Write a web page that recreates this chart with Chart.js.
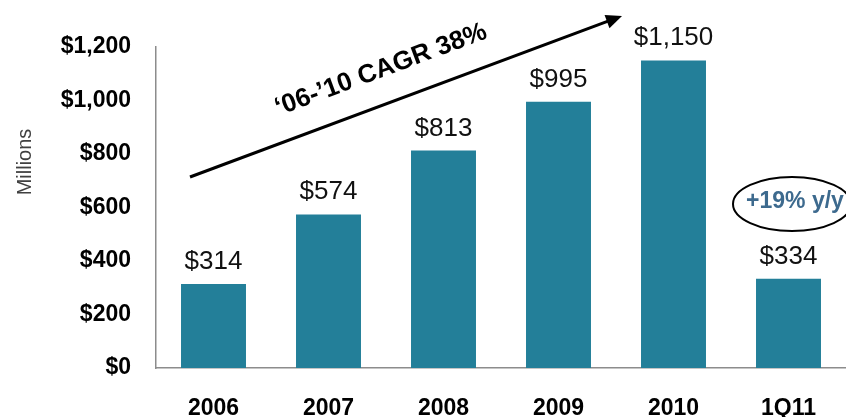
<!DOCTYPE html>
<html>
<head>
<meta charset="utf-8">
<script src="https://cdn.jsdelivr.net/npm/chart.js@4/dist/chart.umd.min.js"></script>
<style>
  html, body { margin: 0; padding: 0; background: #fff; overflow: hidden; }
  #wrap { width: 846px; height: 417px; }
</style>
</head>
<body>
<div id="wrap"><canvas id="revChart"></canvas></div>
<script>
// ---- data ----
const categories = ['2006', '2007', '2008', '2009', '2010', '1Q11'];
const revenue = [314, 574, 813, 995, 1150, 334];
const yTicks = [0, 200, 400, 600, 800, 1000, 1200];

const FONT = '"Liberation Sans", Arial, sans-serif';
const BAR_COLOR = '#237F99';
const AXIS_COLOR = '#8c8c8c';

function money(v) {
    return '$' + v.toLocaleString('en-US');
}

// labels above bars + arrow / CAGR / ellipse callouts
const annotations = {
    id: 'annotations',
    afterDatasetsDraw(chart) {
        const ctx = chart.ctx;
        const meta = chart.getDatasetMeta(0);

        // value labels
        ctx.save();
        ctx.fillStyle = '#111';
        ctx.font = '26px ' + FONT;
        ctx.textAlign = 'center';
        ctx.textBaseline = 'alphabetic';
        meta.data.forEach((bar, i) => {
            ctx.fillText(money(revenue[i]), bar.x, bar.y - 15);
        });
        ctx.restore();

        // "Millions" axis caption
        ctx.save();
        ctx.translate(25, 162);
        ctx.rotate(-Math.PI / 2);
        ctx.fillStyle = '#404040';
        ctx.font = '20px ' + FONT;
        ctx.textAlign = 'center';
        ctx.textBaseline = 'middle';
        ctx.fillText('Millions', 0, 0);
        ctx.restore();

        // growth arrow
        const x0 = 190, y0 = 177, x1 = 622, y1 = 16;
        const ang = Math.atan2(y1 - y0, x1 - x0);
        ctx.save();
        ctx.strokeStyle = '#000';
        ctx.fillStyle = '#000';
        ctx.lineWidth = 3;
        ctx.beginPath();
        ctx.moveTo(x0, y0);
        ctx.lineTo(x1 - 12 * Math.cos(ang), y1 - 12 * Math.sin(ang));
        ctx.stroke();
        ctx.translate(x1, y1);
        ctx.rotate(ang);
        ctx.beginPath();
        ctx.moveTo(0, 0);
        ctx.lineTo(-16, -7);
        ctx.lineTo(-16, 7);
        ctx.closePath();
        ctx.fill();
        ctx.restore();

        // CAGR text
        ctx.save();
        ctx.translate(381, 70);
        ctx.rotate(ang);
        ctx.fillStyle = '#000';
        ctx.font = 'bold 26px ' + FONT;
        ctx.textAlign = 'center';
        ctx.textBaseline = 'middle';
        ctx.fillText('\u201806-\u201910 CAGR 38%', 0, 0);
        ctx.restore();

        // y/y callout
        ctx.save();
        ctx.strokeStyle = '#000';
        ctx.lineWidth = 2;
        ctx.beginPath();
        ctx.ellipse(792, 204, 59, 27, 0, 0, Math.PI * 2);
        ctx.stroke();
        ctx.fillStyle = '#3d6a8e';
        ctx.font = 'bold 23px ' + FONT;
        ctx.textAlign = 'center';
        ctx.textBaseline = 'middle';
        ctx.fillText('+19% y/y', 795, 202);
        ctx.restore();
    }
};

new Chart(document.getElementById('revChart'), {
    type: 'bar',
    data: {
        labels: categories,
        datasets: [{
            data: revenue,
            backgroundColor: BAR_COLOR,
            borderWidth: 0,
            barPercentage: 0.565,
            categoryPercentage: 1
        }]
    },
    options: {
        responsive: true,
        maintainAspectRatio: false,
        animation: false,
        layout: { padding: { top: 47, right: 0, bottom: 0, left: 0 } },
        plugins: {
            legend: { display: false },
            tooltip: { enabled: false }
        },
        scales: {
            x: {
                grid: { display: false, drawTicks: false },
                border: { display: true, color: AXIS_COLOR, width: 1.5 },
                ticks: {
                    color: '#000',
                    padding: 27,
                    font: { family: FONT, size: 23, weight: 'bold' }
                },
                afterFit: s => { s.height = 49; }
            },
            y: {
                min: 0,
                max: 1200,
                afterBuildTicks: s => { s.ticks = yTicks.map(v => ({ value: v })); },
                grid: { display: false, drawTicks: false },
                border: { display: true, color: AXIS_COLOR, width: 1.5 },
                ticks: {
                    color: '#000',
                    padding: 25,
                    font: { family: FONT, size: 23, weight: 'bold' },
                    callback: v => money(v)
                },
                afterFit: s => { s.width = 156; }
            }
        }
    },
    plugins: [annotations]
});
</script>
</body>
</html>
